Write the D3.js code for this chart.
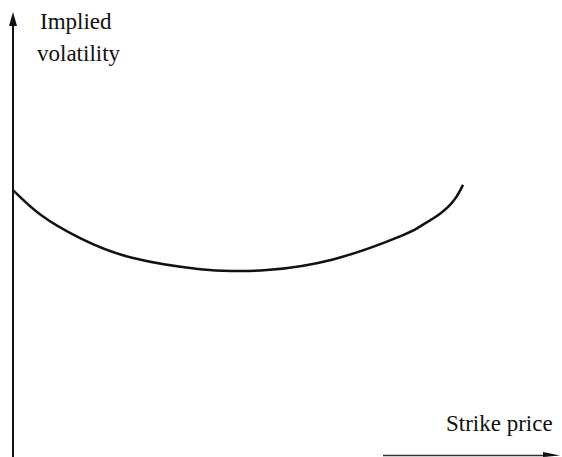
<html>
  <head>
    <script src="https://d3js.org/d3.v7.min.js"></script>
    <style>
      body { margin: 0; background: #fff; }
      .lab { font-family: "Liberation Serif", "Times New Roman", serif; font-size: 23px; fill: #111; }
    </style>
  </head>
  <body>
    <svg id="chart" width="562" height="457"></svg>
    <script>
      // strike price (arbitrary units) and implied volatility
      const strikes = [0, 6.2, 14.9, 26.7, 41.6, 48.9, 56.4, 71.1, 86, 90.4, 94.9, 98.2, 100];
      const vols = [60.1, 54.5, 49.3, 44.8, 42.3, 41.9, 42.1, 44.5, 49.7, 51.9, 54.8, 58.1, 61.3];
      const yLabel = ["Implied", "volatility"];
      const xLabel = "Strike price";

      const svg = d3.select("#chart");

      const x = d3.scaleLinear().domain([0, 120]).range([13, 553]);
      const y = d3.scaleLinear().domain([0, 100]).range([457, 13]);

      // vertical axis with arrow at the top
      svg.append("line")
        .attr("x1", 13).attr("x2", 13)
        .attr("y1", 22).attr("y2", 457)
        .attr("stroke", "#111")
        .attr("stroke-width", 2);
      svg.append("path")
        .attr("d", "M13,12 L9,26 L17,26 Z")
        .attr("fill", "#111");

      // short horizontal arrow under the x label
      svg.append("line")
        .attr("x1", 383).attr("x2", 548)
        .attr("y1", 455.5).attr("y2", 455.5)
        .attr("stroke", "#333")
        .attr("stroke-width", 1.5);
      svg.append("path")
        .attr("d", "M560,455.5 L543,452 L543,457 Z")
        .attr("fill", "#111");

      // labels
      svg.selectAll("text.ylab")
        .data(yLabel)
        .join("text")
        .attr("class", "lab ylab")
        .attr("x", (d, i) => (i === 0 ? 40 : 37))
        .attr("y", (d, i) => 29 + i * 32)
        .text((d) => d);

      svg.append("text")
        .attr("class", "lab")
        .attr("x", 446)
        .attr("y", 431)
        .text(xLabel);

      // the smile
      const pts = strikes.map((s, i) => [s, vols[i]]);
      const line = d3.line()
        .x((d) => x(d[0]))
        .y((d) => y(d[1]))
        .curve(d3.curveNatural);

      svg.append("path")
        .datum(pts)
        .attr("d", line)
        .attr("fill", "none")
        .attr("stroke", "#111")
        .attr("stroke-width", 2.5);
    </script>
  </body>
</html>
